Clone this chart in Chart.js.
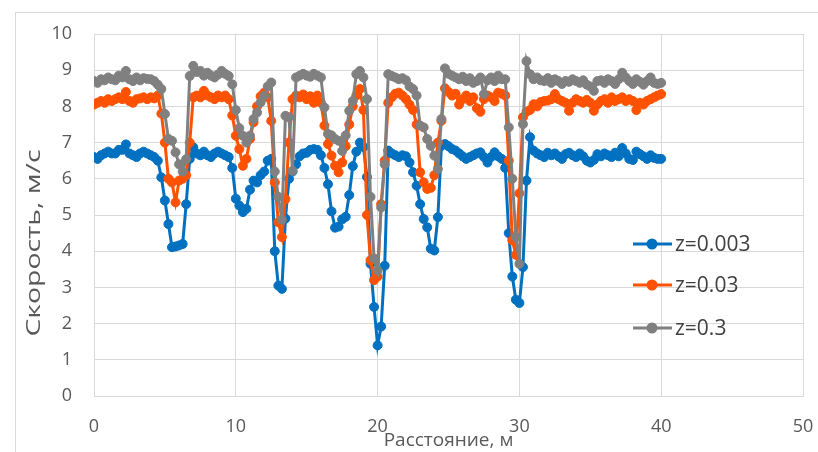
<!DOCTYPE html>
<html>
<head>
<meta charset="utf-8">
<script src="https://cdn.jsdelivr.net/npm/chart.js@4.4.1/dist/chart.umd.min.js"></script>
<style>
  html, body { margin: 0; padding: 0; background: #fff; }
  canvas { display: block; }
</style>
</head>
<body>
<canvas id="myChart" width="818" height="452"></canvas>
<script>
// sampling step along the distance axis, m
const STEP = 0.25;

// z=0.003
const blue = [
  6.60, 6.55, 6.65, 6.70,  6.75, 6.70, 6.70, 6.80,  6.80, 6.95, 6.70, 6.65,  6.60, 6.70, 6.75, 6.70,
  6.65, 6.60, 6.50, 6.04,  5.40, 4.75, 4.11, 4.13,  4.16, 4.20, 5.30, 6.55,  6.87, 6.70, 6.65, 6.75,
  6.65, 6.60, 6.70, 6.75,  6.70, 6.65, 6.60, 6.30,  5.45, 5.26, 5.08, 5.17,  5.70, 5.95, 5.90, 6.10,
  6.20, 6.50, 6.55, 4.00,  3.05, 2.96, 4.90, 6.00,  6.20, 6.40, 6.62, 6.70,  6.72, 6.80, 6.82, 6.80,
  6.65, 6.30, 5.85, 5.10,  4.65, 4.68, 4.88, 4.95,  5.55, 6.35, 6.75, 7.00,  6.88, 6.05, 3.65, 2.46,
  1.40, 1.92, 3.60, 6.78,  6.70, 6.65, 6.60, 6.65,  6.62, 6.45, 6.18, 5.81,  5.30, 4.89, 4.66, 4.07,
  4.02, 4.94, 6.91, 6.96,  6.90, 6.82, 6.78, 6.70,  6.62, 6.55, 6.60, 6.65,  6.70, 6.73, 6.60, 6.45,
  6.60, 6.73, 6.62, 6.55,  6.30, 4.50, 3.30, 2.66,  2.57, 3.56, 5.95, 7.15,  6.78, 6.70, 6.65, 6.60,
  6.72, 6.65, 6.70, 6.62,  6.55, 6.68, 6.72, 6.65,  6.60, 6.70, 6.62, 6.50,  6.45, 6.52, 6.68, 6.62,
  6.70, 6.65, 6.60, 6.72,  6.62, 6.85, 6.70, 6.55,  6.52, 6.75, 6.68, 6.62,  6.55, 6.65, 6.58, 6.55,
  6.55
];

// z=0.03
const orange = [
  8.05, 8.10, 8.15, 8.10,  8.20, 8.15, 8.20, 8.25,  8.20, 8.40, 8.15, 8.10,  8.20, 8.22, 8.25, 8.20,
  8.25, 8.22, 8.30, 7.80,  7.00, 6.00, 5.90, 5.35,  5.95, 6.00, 6.10, 7.00,  8.25, 8.30, 8.25, 8.43,
  8.30, 8.25, 8.20, 8.30,  8.25, 8.30, 8.20, 7.75,  7.19, 6.82, 6.36, 6.55,  7.10, 7.56, 8.00, 8.28,
  8.38, 8.25, 7.60, 5.90,  4.80, 4.39, 5.44, 7.00,  8.20, 8.30, 8.25, 8.33,  8.20, 8.28, 8.10, 8.30,
  8.10, 7.47, 6.96, 6.64,  6.36, 6.18, 6.45, 6.90,  7.50, 8.00, 8.30, 8.48,  7.90, 5.00, 3.75, 3.20,
  3.30, 5.30, 6.50, 8.10,  8.25, 8.35, 8.38, 8.30,  8.20, 8.05, 7.90, 7.50,  6.18, 5.90, 5.72, 5.75,
  6.10, 7.00, 7.60, 8.50,  8.40, 8.30, 8.35, 8.05,  8.20, 8.30, 8.15, 8.25,  7.95, 7.85, 8.20, 8.30,
  8.25, 8.15, 8.38, 8.35,  8.30, 6.50, 4.30, 3.90,  5.60, 7.70, 7.85, 7.90,  8.06, 8.00, 8.12, 8.15,
  8.16, 8.20, 8.34, 8.20,  8.15, 8.10, 7.88, 8.10,  8.20, 8.15, 8.10, 8.18,  8.10, 7.88, 8.05, 8.15,
  8.20, 8.10, 8.25, 8.15,  8.20, 8.25, 8.15, 8.20,  8.15, 7.90, 8.10, 8.05,  8.15, 8.20, 8.25, 8.30,
  8.34
];

// z=0.3
const gray = [
  8.70, 8.65, 8.75, 8.72,  8.80, 8.75, 8.72, 8.85,  8.80, 8.98, 8.75, 8.70,  8.80, 8.72, 8.78, 8.76,
  8.75, 8.70, 8.60, 8.48,  7.79, 7.10, 7.05, 6.73,  6.40, 6.20, 6.54, 8.84,  9.12, 8.95, 8.98, 8.85,
  8.93, 8.85, 8.80, 8.88,  8.98, 8.90, 8.84, 8.61,  7.90, 7.40, 7.19, 7.00,  7.19, 7.65, 7.83, 8.11,
  8.29, 8.55, 8.66, 6.20,  5.50, 4.87, 7.74, 7.70,  6.22, 8.80, 8.85, 8.90,  8.85, 8.82, 8.90, 8.85,
  8.80, 7.97, 7.24, 7.20,  7.10, 7.05, 6.77, 7.20,  7.88, 8.15, 8.89, 8.98,  8.80, 8.20, 5.50, 3.80,
  3.47, 5.21, 6.40, 8.89,  8.84, 8.80, 8.75, 8.78,  8.72, 8.55, 8.48, 8.30,  7.47, 7.42, 7.10, 6.91,
  6.64, 6.27, 7.65, 9.05,  8.90, 8.85, 8.80, 8.75,  8.82, 8.70, 8.78, 8.65,  8.70, 8.80, 8.34, 8.72,
  8.80, 8.70, 8.85, 8.75,  8.75, 7.42, 6.00, 4.39,  3.65, 7.51, 9.25, 8.89,  8.75, 8.80, 8.72, 8.70,
  8.78, 8.65, 8.75, 8.70,  8.62, 8.70, 8.68, 8.75,  8.70, 8.65, 8.72, 8.60,  8.55, 8.43, 8.70, 8.72,
  8.65, 8.75, 8.70, 8.62,  8.75, 8.93, 8.80, 8.70,  8.62, 8.75, 8.68, 8.60,  8.70, 8.80, 8.65, 8.62,
  8.65
];

const seriesLabels = ["z=0.003", "z=0.03", "z=0.3"];
const seriesColors = ["#0070C0", "#FF5200", "#808080"];
const X_TITLE = "Расстояние, м";
const Y_TITLE = "Скорость, м/с";

const distance = blue.map((_, i) => i * STEP);

function toPoints(values) {
  return values.map((v, i) => ({ x: distance[i], y: v }));
}

const FONT = "'Open Sans', 'DejaVu Sans', sans-serif";
const TEXT = "#595959";
const GRID = "#D9D9D9";

// outer frame, only its left and top edges are inside the picture
const frame = {
  id: "frame",
  beforeDraw(chart) {
    const ctx = chart.ctx;
    ctx.save();
    ctx.strokeStyle = GRID;
    ctx.lineWidth = 1;
    ctx.strokeRect(15.5, 12.5, 1000, 1000);
    ctx.restore();
  }
};

// legend sits inside the plot, on the right
const insideLegend = {
  id: "insideLegend",
  afterDraw(chart) {
    const ctx = chart.ctx;
    const rows = [244, 285, 328];
    ctx.save();
    chart.data.datasets.forEach((ds, i) => {
      const y = rows[i];
      ctx.strokeStyle = ds.borderColor;
      ctx.lineWidth = 3;
      ctx.beginPath();
      ctx.moveTo(633, y);
      ctx.lineTo(672, y);
      ctx.stroke();
      ctx.fillStyle = ds.borderColor;
      ctx.beginPath();
      ctx.arc(652, y, 5.5, 0, Math.PI * 2);
      ctx.fill();
      ctx.fillStyle = "#404040";
      ctx.font = "21px " + FONT;
      ctx.textBaseline = "middle";
      ctx.textAlign = "left";
      ctx.fillText(ds.label, 675, y + 1);
    });
    ctx.restore();
  }
};

// y title: the source picture is stretched vertically, so stretch the text too
const yTitle = {
  id: "yTitle",
  afterDraw(chart) {
    const ctx = chart.ctx;
    ctx.save();
    ctx.font = "20px " + FONT;
    const w = ctx.measureText(Y_TITLE).width;
    ctx.translate(34, 243);
    ctx.rotate(-Math.PI / 2);
    ctx.scale(187 / w, 1);
    ctx.textAlign = "center";
    ctx.textBaseline = "middle";
    ctx.fillStyle = TEXT;
    ctx.fillText(Y_TITLE, 0, 0);
    ctx.restore();
  }
};

new Chart("myChart", {
  type: "line",
  data: {
    datasets: [blue, orange, gray].map((values, i) => ({
      label: seriesLabels[i],
      data: toPoints(values),
      borderColor: seriesColors[i],
      backgroundColor: seriesColors[i],
      pointBackgroundColor: seriesColors[i],
      pointBorderColor: seriesColors[i],
      borderWidth: 3,
      pointRadius: 4.5,
      pointBorderWidth: 1,
      tension: 0,
      fill: false,
      order: 2 - i
    }))
  },
  options: {
    responsive: false,
    animation: false,
    devicePixelRatio: 1,
    layout: { padding: { top: 34, right: 15, left: 0, bottom: 0 } },
    plugins: {
      legend: { display: false },
      tooltip: { enabled: false }
    },
    scales: {
      x: {
        type: "linear",
        min: 0,
        max: 50,
        afterFit(scale) {
          scale.height = 56;
          scale.paddingLeft = 0;
          scale.paddingRight = 0;
        },
        ticks: { stepSize: 10, padding: 20, color: TEXT, font: { family: FONT, size: 18 } },
        grid: { color: GRID, drawTicks: false },
        border: { color: GRID },
        title: {
          display: true,
          text: X_TITLE,
          color: TEXT,
          font: { family: FONT, size: 19 },
          padding: { top: 0, bottom: 0 }
        }
      },
      y: {
        min: 0,
        max: 10,
        afterFit(scale) {
          scale.width = 94;
          scale.paddingTop = 0;
          scale.paddingBottom = 0;
        },
        ticks: { stepSize: 1, padding: 22, color: TEXT, font: { family: FONT, size: 18 } },
        grid: { color: GRID, drawTicks: false },
        border: { color: GRID }
      }
    }
  },
  plugins: [frame, insideLegend, yTitle]
});
</script>
</body>
</html>
